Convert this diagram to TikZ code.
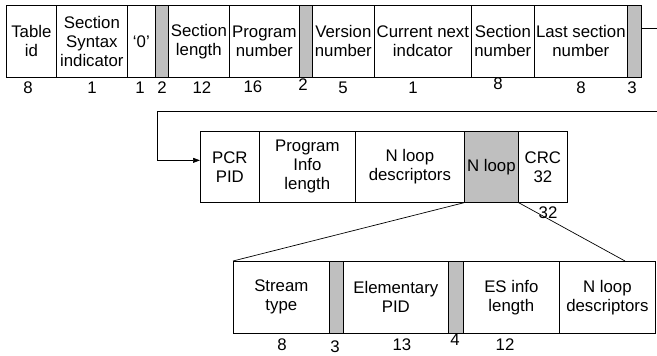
\documentclass[tikz,border=0pt]{standalone}
\usepackage{fontspec}
\setmainfont{Liberation Sans}
\usetikzlibrary{arrows.meta}

\tikzset{
  field/.style={draw, line width=0.7pt, anchor=north west, inner sep=0pt,
    align=center, font=\fontsize{16.8}{19}\selectfont},
  gap/.style={field, fill=black!25},
  bits/.style={inner sep=0pt, font=\fontsize{16.8}{19}\selectfont},
}

\begin{document}
\begin{tikzpicture}[x=1pt, y=-1pt]
\useasboundingbox (0,0) rectangle (657,356);

% First row: section header
\node[field, minimum width=50, minimum height=72] (tid) at (6,5) {Table\\id};
\node[field, minimum width=71, minimum height=72] (ssi) at (56,5) {Section\\Syntax\\indicator};
\node[field, minimum width=28, minimum height=72] (zero) at (127,5) {`0'};
\node[gap, minimum width=13, minimum height=72] (g1) at (155,5) {};
\node[field, minimum width=61, minimum height=72] (slen) at (168,5) {Section\\length};
\node[field, minimum width=70, minimum height=72] (pnum) at (229,5) {Program\\number};
\node[gap, minimum width=13, minimum height=72] (g2) at (299,5) {};
\node[field, minimum width=62, minimum height=72] (vnum) at (312,5) {Version\\number};
\node[field, minimum width=97, minimum height=72] (cni) at (374,5) {Current next\\indcator};
\node[field, minimum width=63, minimum height=72] (snum) at (471,5) {Section\\number};
\node[field, minimum width=93, minimum height=72] (lsn) at (534,5) {Last section\\number};
\node[gap, minimum width=14, minimum height=72] (g3) at (627,5) {};

% bit counts, first row
\node[bits] (b1) at (28,88) {8};
\node[bits] (b2) at (92,88) {1};
\node[bits] (b3) at (140,88) {1};
\node[bits] (b4) at (162,88) {2};
\node[bits] (b5) at (202,88) {12};
\node[bits] (b6) at (253,87) {16};
\node[bits] (b7) at (303,85) {2};
\node[bits] (b8) at (343,88) {5};
\node[bits] (b9) at (413,88) {1};
\node[bits] (b10) at (498,84) {8};
\node[bits] (b11) at (581,88) {8};
\node[bits] (b12) at (632,88) {3};

% Second row: program info
\node[field, minimum width=59, minimum height=71] (pcr) at (200,131) {PCR\\PID};
\node[field, minimum width=96, minimum height=71] (pil) at (259,131) {Program\\Info\\length};
\node[field, minimum width=109, minimum height=71] (nld) at (355,131) {N loop\\descriptors};
\node[gap, minimum width=54, minimum height=71] (nloop) at (464,131) {N loop};
\node[field, minimum width=49, minimum height=71] (crc) at (518,131) {CRC\\32};
\node[bits] (b13) at (548,213) {32};

% Third row: stream loop
\node[field, minimum width=96, minimum height=72] (stype) at (233,261) {Stream\\type};
\node[gap, minimum width=14, minimum height=72] (g4) at (329,261) {};
\node[field, minimum width=105, minimum height=72] (epid) at (343,261) {Elementary\\PID};
\node[gap, minimum width=15, minimum height=72] (g5) at (448,261) {};
\node[field, minimum width=96, minimum height=72] (esil) at (463,261) {ES info\\length};
\node[field, minimum width=96, minimum height=72] (nld2) at (559,261) {N loop\\descriptors};

% bit counts, third row
\node[bits] (b14) at (282,345) {8};
\node[bits] (b15) at (335,347) {3};
\node[bits] (b16) at (402,345) {13};
\node[bits] (b17) at (455,340) {4};
\node[bits] (b18) at (505,345) {12};

% Wrap from first row to second row
\coordinate (out) at (657,28);
\coordinate (back) at (657,111);
\coordinate (turn) at (157,111);
\draw[line width=0.7pt] (g3.east |- out) -- (out);
\draw[line width=0.7pt, -{Triangle[length=7pt, width=5pt]}] (back) -- (turn) |- ([yshift=6.5pt]pcr.west);

% Expansion of the N loop
\coordinate (nend) at (625,261);
\draw[line width=0.7pt] (nloop.south west) -- (stype.north west);
\draw[line width=0.7pt] (nloop.south east) -- (nend);

\end{tikzpicture}
\end{document}
